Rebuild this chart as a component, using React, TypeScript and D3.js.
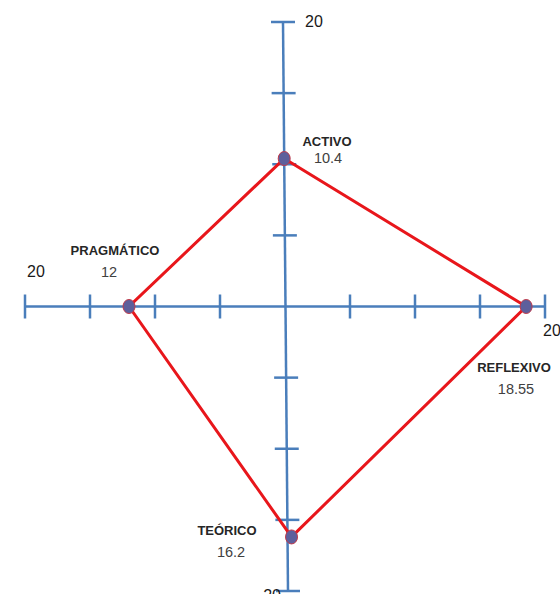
import { useEffect, useRef } from 'react';
import * as d3 from 'd3';

// categories placed clockwise starting at the top axis
const categories = ['ACTIVO', 'REFLEXIVO', 'TEÓRICO', 'PRAGMÁTICO'];
const values = [10.4, 18.55, 16.2, 12];
const valueLabels = ['10.4', '18.55', '16.2', '12'];
const axisMax = 20;
const tickValues = [-20, -15, -10, -5, 5, 10, 15, 20];
const endLabels = ['20', '20', '20', '20'];

export default function App() {
  const svgRef = useRef<SVGSVGElement | null>(null);

  useEffect(() => {
    if (!svgRef.current) return;
    const svg = d3.select(svgRef.current);
    svg.selectAll('*').remove();

    const x = d3.scaleLinear().domain([-axisMax, axisMax]).range([25, 545]);
    const y = d3.scaleLinear().domain([-axisMax, axisMax]).range([591, 22]);
    // the vertical axis leans slightly (hand drawn look of the original)
    const vx = d3.scaleLinear().domain([-axisMax, axisMax]).range([288, 283]);

    const axisColor = '#4a7ebb';
    const cy = y(0);

    // axes
    svg.append('line')
      .attr('x1', x(-axisMax)).attr('x2', x(axisMax))
      .attr('y1', cy).attr('y2', cy)
      .attr('stroke', axisColor).attr('stroke-width', 2.5);
    svg.append('line')
      .attr('x1', vx(axisMax)).attr('x2', vx(-axisMax))
      .attr('y1', y(axisMax)).attr('y2', y(-axisMax))
      .attr('stroke', axisColor).attr('stroke-width', 2.5);

    // ticks
    svg.selectAll('line.xt')
      .data(tickValues)
      .join('line')
      .attr('class', 'xt')
      .attr('x1', (d) => x(d)).attr('x2', (d) => x(d))
      .attr('y1', cy - 12).attr('y2', cy + 12)
      .attr('stroke', axisColor).attr('stroke-width', 2.5);
    svg.selectAll('line.yt')
      .data(tickValues)
      .join('line')
      .attr('class', 'yt')
      .attr('x1', (d) => vx(d) - 12).attr('x2', (d) => vx(d) + 12)
      .attr('y1', (d) => y(d)).attr('y2', (d) => y(d))
      .attr('stroke', axisColor).attr('stroke-width', 2.5);

    // axis end labels (top, right, bottom, left)
    const endPos: [number, number, string][] = [
      [vx(axisMax) + 22, y(axisMax) + 5, 'start'],
      [x(axisMax) - 2, cy + 29, 'start'],
      [vx(-axisMax) - 7, y(-axisMax) + 10, 'end'],
      [x(-axisMax) + 11, cy - 30, 'middle'],
    ];
    svg.selectAll('text.end')
      .data(endLabels)
      .join('text')
      .attr('class', 'end')
      .attr('x', (_, i) => endPos[i][0])
      .attr('y', (_, i) => endPos[i][1])
      .attr('text-anchor', (_, i) => endPos[i][2])
      .attr('font-family', 'Liberation Sans, Arial, sans-serif')
      .attr('font-size', 16)
      .attr('fill', '#1a1a1a')
      .text((d) => d);

    // point positions
    const pts: [number, number][] = values.map((v, i) => {
      if (i === 0) return [vx(v), y(v)];
      if (i === 1) return [x(v), y(0)];
      if (i === 2) return [vx(-v) + 4, y(-v)];
      return [x(-v), y(0)];
    });

    svg.append('path')
      .attr('d', d3.line()(pts.concat([pts[0]])) ?? '')
      .attr('fill', 'none')
      .attr('stroke', '#e8161b')
      .attr('stroke-width', 3)
      .attr('stroke-linejoin', 'miter');

    svg.selectAll('ellipse')
      .data(pts)
      .join('ellipse')
      .attr('cx', (d) => d[0])
      .attr('cy', (d) => d[1])
      .attr('rx', 6)
      .attr('ry', 7)
      .attr('fill', '#5d5f9c')
      .attr('stroke', '#c0394a')
      .attr('stroke-width', 1);

    // category + value labels: [labelX, labelY, valueX, valueY]
    const labelPos: [number, number, number, number][] = [
      [327, 146, 328, 163],
      [514, 372, 516, 394],
      [227, 535, 231, 557],
      [115, 255, 109, 277],
    ];
    svg.selectAll('text.cat')
      .data(categories)
      .join('text')
      .attr('class', 'cat')
      .attr('x', (_, i) => labelPos[i][0])
      .attr('y', (_, i) => labelPos[i][1])
      .attr('text-anchor', 'middle')
      .attr('font-family', 'Liberation Sans, Arial, sans-serif')
      .attr('font-weight', 'bold')
      .attr('font-size', 13)
      .attr('fill', '#262626')
      .text((d) => d);
    svg.selectAll('text.val')
      .data(valueLabels)
      .join('text')
      .attr('class', 'val')
      .attr('x', (_, i) => labelPos[i][2])
      .attr('y', (_, i) => labelPos[i][3])
      .attr('text-anchor', 'middle')
      .attr('font-family', 'Liberation Sans, Arial, sans-serif')
      .attr('font-size', 14.5)
      .attr('fill', '#404040')
      .text((d) => d);
  }, []);

  return (
    <svg
      ref={svgRef}
      width={560}
      height={594}
      style={{ position: 'absolute', left: 0, top: 0, background: '#fff' }}
    />
  );
}
